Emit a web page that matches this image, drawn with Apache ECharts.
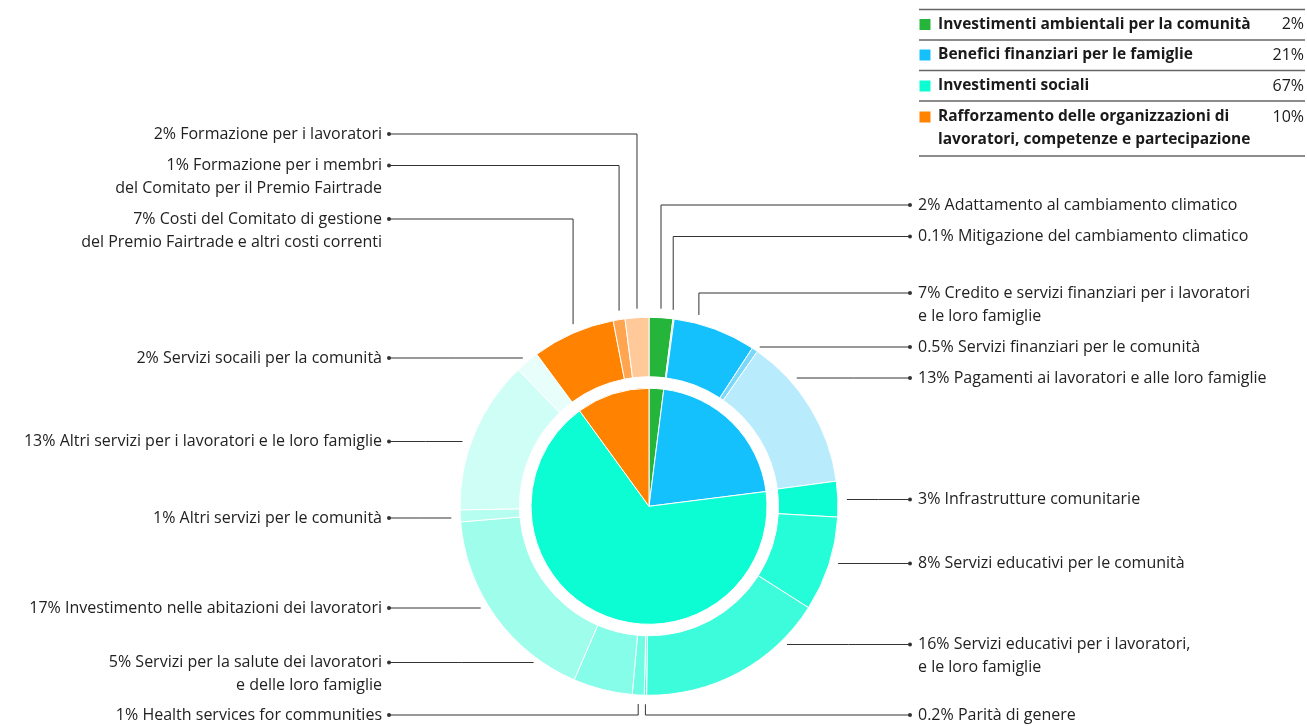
<!DOCTYPE html>
<html>
<head>
<meta charset="utf-8">
<script src="https://cdn.jsdelivr.net/npm/echarts@6/dist/echarts.min.js"></script>
<style>
html, body { margin: 0; padding: 0; background: #fff; }
#chart { width: 1307px; height: 726px; }
</style>
</head>
<body>
<div id="chart"></div>
<script>
// ---- Inner pie: the four spending areas ----
const groupNames = [
  'Investimenti ambientali per la comunità',
  'Benefici finanziari per le famiglie',
  'Investimenti sociali',
  'Rafforzamento delle organizzazioni di\nlavoratori, competenze e partecipazione'
];
const groupValues = [2, 21, 67, 10];
const groupColors = ['#25b53b', '#14c1fd', '#0cfcd3', '#ff8300'];

// ---- Outer ring: individual uses, clockwise from 12 o'clock ----
const useNames = [
  'Adattamento al cambiamento climatico',
  'Mitigazione del cambiamento climatico',
  'Credito e servizi finanziari per i lavoratori\ne le loro famiglie',
  'Servizi finanziari per le comunità',
  'Pagamenti ai lavoratori e alle loro famiglie',
  'Infrastrutture comunitarie',
  'Servizi educativi per le comunità',
  'Servizi educativi per i lavoratori,\ne le loro famiglie',
  'Parità di genere',
  'Health services for communities',
  'Servizi per la salute dei lavoratori\ne delle loro famiglie',
  'Investimento nelle abitazioni dei lavoratori',
  'Altri servizi per le comunità',
  'Altri servizi per i lavoratori e le loro famiglie',
  'Servizi socaili per la comunità',
  'Costi del Comitato di gestione\ndel Premio Fairtrade e altri costi correnti',
  'Formazione per i membri\ndel Comitato per il Premio Fairtrade',
  'Formazione per i lavoratori'
];
const useValues = [2, 0.1, 7, 0.5, 13, 3, 8, 16, 0.2, 1, 5, 17, 1, 13, 2, 7, 1, 2];
const useColors = [
  '#25b53b', '#7fd48c',
  '#14c1fd', '#7ad8fb', '#b8ecfd',
  '#0cfcd3', '#25fcd8', '#3dfcdb', '#55fde0', '#6efde4', '#86fde8',
  '#9efdeb', '#b6fef0', '#cefef5', '#e7fefa',
  '#ff8300', '#ffa54f', '#ffc999'
];

// ---- Label placement (per outer slice) ----
const labelSide   = ['r','r','r','r','r','r','r','r','r','l','l','l','l','l','l','l','l','l'];
const labelY      = [205, 236.5, 293, 347, 378, 499.5, 563.5, 644.5, 715, 715, 662.5, 608, 518, 441.5, 358, 219, 165.5, 134];
const leaderRoute = ['v','v','v','h','h','h','h','h','v','v','h','h','h','h','h','v','v','v'];
const leaderAnchor = [0.5, 0.2, 0.3, 0.5, 0.5, 0.5, 0.5, 0.5, 0.5, 0.5, 0.5, 0.5, 0.5, 0.5, 0.5, 0.5, 0.5, 0.5];

const LEFT_DOT_X = 389;
const RIGHT_DOT_X = 910;
const LEADER_GAP = 9;
const LINE_H = 23;
const FONT = '"Open Sans", "Noto Sans", sans-serif';
const LABEL_SIZE = 16;
const TABLE_SIZE = 15.5;
const TEXT_COLOR = '#222';

function pct(v) { return v + '%'; }

const chart = echarts.init(document.getElementById('chart'), null, { renderer: 'canvas' });

function labelText(p) {
  const i = p.dataIndex;
  const lines = (pct(useValues[i]) + ' ' + useNames[i]).split('\n');
  if (labelSide[i] === 'l') {
    return lines.map((t, k) => k === 0 ? '{tl|' + t + '}{gl|}{dl|}' : '{tl|' + t + '}{sl|}').join('\n');
  }
  return lines.map((t, k) => k === 0 ? '{dr|}{gr|}{tr|' + t + '}' : '{sr|}{tr|' + t + '}').join('\n');
}

function leaderLayout(p) {
  const i = p.dataIndex;
  const left = labelSide[i] === 'l';
  const dotX = left ? LEFT_DOT_X : RIGHT_DOT_X;
  const y = labelY[i];
  let pts = null;
  try {
    const lay = chart.getModel().getSeriesByIndex(p.seriesIndex).getData().getItemLayout(i);
    const cx = lay.cx, cy = lay.cy, r = lay.r;
    if (leaderRoute[i] === 'v') {
      const a = lay.startAngle + (lay.endAngle - lay.startAngle) * leaderAnchor[i];
      const ax = cx + r * Math.cos(a);
      const ay = cy + r * Math.sin(a);
      const sy = ay < cy ? ay - LEADER_GAP : ay + LEADER_GAP;
      pts = [[ax, sy], [ax, y], [dotX, y]];
    } else {
      const dy = y - cy;
      const half = Math.sqrt(Math.max(r * r - dy * dy, 0));
      const sx = cx + (left ? -1 : 1) * (half + LEADER_GAP);
      pts = [[sx, y], [(sx + dotX) / 2, y], [dotX, y]];
    }
  } catch (e) {
    pts = null;
  }
  const out = {
    x: left ? dotX + 2 : dotX - 2,
    y: y - LINE_H / 2,
    align: left ? 'right' : 'left',
    verticalAlign: 'top',
    width: 600
  };
  if (pts) out.labelLinePoints = pts;
  return out;
}

const tokenBase = { fontFamily: FONT, fontSize: LABEL_SIZE, color: TEXT_COLOR, lineHeight: LINE_H };
const dotStyle = { width: 4, height: 4, borderRadius: 2, backgroundColor: '#333', lineHeight: LINE_H };

// ---- Legend table (top right) built from the group arrays ----
const tableX0 = 919, tableX1 = 1305;
const ruleY = [9.5, 40, 70.5, 101, 156];
const rowY = [24.5, 55, 86, 117];
const legendGraphics = [];
ruleY.forEach(function (ry) {
  legendGraphics.push({
    type: 'line', silent: true,
    shape: { x1: tableX0, y1: ry, x2: tableX1, y2: ry },
    style: { stroke: '#666', lineWidth: 1.3 }
  });
});
groupNames.forEach(function (name, i) {
  legendGraphics.push({
    type: 'rect', silent: true,
    shape: { x: tableX0 + 0.5, y: rowY[i] - 5.5, width: 11, height: 11 },
    style: { fill: groupColors[i] }
  });
  legendGraphics.push({
    type: 'text', silent: true,
    style: {
      text: name, x: 938, y: rowY[i] - LINE_H / 2,
      fontFamily: FONT, fontSize: TABLE_SIZE, fontWeight: 'bold',
      lineHeight: LINE_H, fill: '#1a1a1a', align: 'left', verticalAlign: 'top'
    }
  });
  legendGraphics.push({
    type: 'text', silent: true,
    style: {
      text: pct(groupValues[i]), x: 1304, y: rowY[i] - LINE_H / 2,
      fontFamily: FONT, fontSize: LABEL_SIZE, lineHeight: LINE_H,
      fill: '#1a1a1a', align: 'right', verticalAlign: 'top'
    }
  });
});

chart.setOption({
  animation: false,
  backgroundColor: '#ffffff',
  graphic: legendGraphics,
  series: [
    {
      name: 'Aree',
      type: 'pie',
      center: [649, 506.3],
      radius: [0, 118],
      startAngle: 90,
      clockwise: true,
      silent: true,
      label: { show: false },
      labelLine: { show: false },
      itemStyle: { borderColor: '#ffffff', borderWidth: 1 },
      data: groupNames.map(function (n, i) {
        return { name: n, value: groupValues[i], itemStyle: { color: groupColors[i] } };
      })
    },
    {
      name: 'Utilizzi',
      type: 'pie',
      center: [649, 506.3],
      radius: [129.5, 189],
      startAngle: 90,
      clockwise: true,
      silent: true,
      avoidLabelOverlap: false,
      itemStyle: { borderColor: '#ffffff', borderWidth: 1 },
      label: {
        show: true,
        position: 'outside',
        overflow: 'none',
        fontFamily: FONT,
        fontSize: LABEL_SIZE,
        color: TEXT_COLOR,
        lineHeight: LINE_H,
        formatter: labelText,
        rich: {
          tl: Object.assign({ align: 'right' }, tokenBase),
          gl: { width: 5, lineHeight: LINE_H, align: 'right' },
          dl: Object.assign({ align: 'right' }, dotStyle),
          sl: { width: 9, lineHeight: LINE_H, align: 'right' },
          tr: Object.assign({ align: 'left' }, tokenBase),
          gr: { width: 6, lineHeight: LINE_H, align: 'left' },
          dr: Object.assign({ align: 'left' }, dotStyle),
          sr: { width: 10, lineHeight: LINE_H, align: 'left' }
        }
      },
      labelLine: {
        show: true,
        length: 10,
        length2: 10,
        lineStyle: { color: '#333', width: 1 }
      },
      labelLayout: leaderLayout,
      data: useNames.map(function (n, i) {
        return { name: n, value: useValues[i], itemStyle: { color: useColors[i] } };
      })
    }
  ]
});
</script>
</body>
</html>
